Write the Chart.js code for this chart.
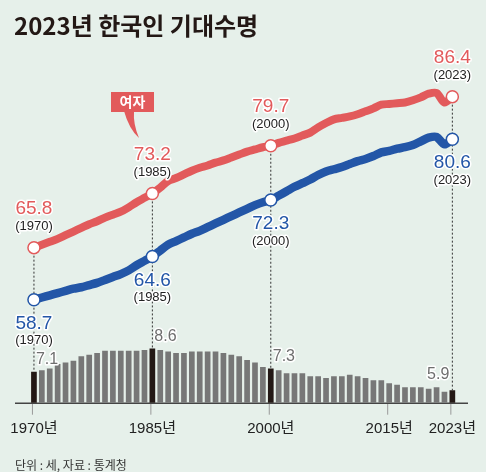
<!DOCTYPE html>
<html>
<head>
<meta charset="utf-8">
<script src="https://cdn.jsdelivr.net/npm/chart.js@4.4.1/dist/chart.umd.min.js"></script>
<style>
  html, body { margin: 0; padding: 0; background: #e6f0ea; }
  #wrap { width: 486px; height: 472px; position: relative; }
</style>
</head>
<body>
<div id="wrap"><canvas id="lifeChart"></canvas></div>
<script>
// years on the x axis
const years = [
  "1970","1971","1972","1973","1974","1975","1976","1977","1978","1979",
  "1980","1981","1982","1983","1984","1985","1986","1987","1988","1989",
  "1990","1991","1992","1993","1994","1995","1996","1997","1998","1999",
  "2000","2001","2002","2003","2004","2005","2006","2007","2008","2009",
  "2010","2011","2012","2013","2014","2015","2016","2017","2018","2019",
  "2020","2021","2022","2023"
];

// 여자 기대수명
const female = [
  65.8, 66.2, 66.6, 67.0, 67.5, 68.0, 68.5, 69.0, 69.4, 69.9,
  70.3, 70.7, 71.3, 72.0, 72.6, 73.2, 74.0, 74.9, 75.3, 75.8,
  76.3, 76.7, 77.0, 77.4, 77.7, 78.1, 78.5, 78.9, 79.2, 79.5,
  79.7, 80.1, 80.4, 80.7, 81.1, 81.5, 82.2, 82.8, 83.3, 83.5,
  83.7, 84.0, 84.4, 84.8, 85.3, 85.4, 85.5, 85.6, 85.9, 86.3,
  86.8, 86.9, 85.6, 86.4
];

// 남자 기대수명
const male = [
  58.7, 59.0, 59.3, 59.6, 59.9, 60.2, 60.4, 60.7, 61.0, 61.4,
  61.8, 62.2, 62.7, 63.4, 64.0, 64.6, 65.4, 66.2, 66.7, 67.2,
  67.7, 68.1, 68.6, 69.1, 69.6, 70.1, 70.6, 71.1, 71.6, 72.0,
  72.3, 72.9, 73.5, 74.1, 74.6, 75.1, 75.7, 76.2, 76.5, 76.8,
  77.2, 77.6, 77.9, 78.3, 78.8, 79.0, 79.3, 79.5, 79.8, 80.3,
  80.8, 80.9, 79.9, 80.6
];

// 남녀 기대수명 차이 (bars)
const gap = [
  7.1, 7.2, 7.3, 7.6, 7.7, 7.8, 8.1, 8.2, 8.3, 8.45,
  8.45, 8.45, 8.45, 8.45, 8.5, 8.6, 8.5, 8.4, 8.3, 8.3,
  8.4, 8.4, 8.4, 8.4, 8.3, 8.2, 8.1, 7.85, 7.7, 7.4,
  7.3, 7.2, 7.0, 7.0, 7.0, 6.8, 6.8, 6.7, 6.8, 6.8,
  6.9, 6.8, 6.7, 6.55, 6.55, 6.35, 6.25, 6.1, 6.1, 6.1,
  6.0, 6.1, 5.8, 5.9
];

const markYears = ["1970", "1985", "2000", "2023"]; // labelled points
const tickYears = ["1970", "1985", "2000", "2015", "2023"];

const RED = "#e25a5b";
const BLUE = "#2356a7";
const BG = "#e6f0ea";
const NUM_FONT = '"Liberation Sans", "Noto Sans CJK KR", sans-serif';
const KR_FONT = '"Noto Sans CJK KR", sans-serif';

const isMark = (i) => markYears.includes(years[i]);

// text with a white outline, like the printed graphic
function haloText(ctx, text, x, y, color, font, align) {
  ctx.save();
  ctx.font = font;
  ctx.textAlign = align || "center";
  ctx.textBaseline = "middle";
  ctx.lineJoin = "round";
  ctx.strokeStyle = "#ffffff";
  ctx.lineWidth = 3;
  ctx.strokeText(text, x, y);
  ctx.fillStyle = color;
  ctx.fillText(text, x, y);
  ctx.restore();
}

const decor = {
  id: "decor",
  beforeDraw(chart) {
    const ctx = chart.ctx;
    ctx.save();
    ctx.fillStyle = BG;
    ctx.fillRect(0, 0, chart.width, chart.height);
    ctx.restore();
  },
  beforeDatasetsDraw(chart) {
    const ctx = chart.ctx;
    const area = chart.chartArea;
    const fMeta = chart.getDatasetMeta(0);
    const bMeta = chart.getDatasetMeta(2);
    const xScale = chart.scales.x;

    // dashed guides from the female point down to the bar
    ctx.save();
    ctx.strokeStyle = "#333";
    ctx.lineWidth = 1;
    ctx.setLineDash([2, 2]);
    years.forEach((y, i) => {
      if (!isMark(i)) return;
      const x = fMeta.data[i].x;
      ctx.beginPath();
      ctx.moveTo(x, fMeta.data[i].y);
      ctx.lineTo(x, bMeta.data[i].y);
      ctx.stroke();
    });
    ctx.restore();

    // axis line + tick marks
    ctx.save();
    ctx.strokeStyle = "#999";
    ctx.lineWidth = 1;
    tickYears.forEach((y) => {
      const x = xScale.getPixelForValue(years.indexOf(y)) - 1.5;
      ctx.beginPath();
      ctx.moveTo(x, area.bottom);
      ctx.lineTo(x, area.bottom + 12);
      ctx.stroke();
    });
    ctx.strokeStyle = "#444";
    ctx.lineWidth = 1.5;
    ctx.beginPath();
    ctx.moveTo(15, area.bottom + 0.5);
    ctx.lineTo(468, area.bottom + 0.5);
    ctx.stroke();
    ctx.restore();
  },
  afterDatasetsDraw(chart) {
    const ctx = chart.ctx;
    const fMeta = chart.getDatasetMeta(0);
    const mMeta = chart.getDatasetMeta(1);
    const bMeta = chart.getDatasetMeta(2);

    years.forEach((y, i) => {
      if (!isMark(i)) return;
      const pf = fMeta.data[i];
      const pm = mMeta.data[i];
      haloText(ctx, female[i].toFixed(1), pf.x, pf.y - 39, RED, "19px " + NUM_FONT);
      haloText(ctx, "(" + y + ")", pf.x, pf.y - 21, "#222", "13px " + NUM_FONT);
      haloText(ctx, male[i].toFixed(1), pm.x, pm.y + 24, BLUE, "19px " + NUM_FONT);
      haloText(ctx, "(" + y + ")", pm.x, pm.y + 41, "#222", "13px " + NUM_FONT);

      const bar = bMeta.data[i];
      if (y === "2023") {
        haloText(ctx, gap[i].toFixed(1), bar.x - 3, bar.y - 16, "#6e6e6e", "16px " + NUM_FONT, "right");
      } else {
        haloText(ctx, gap[i].toFixed(1), bar.x + 2, bar.y - 12, "#6e6e6e", "16px " + NUM_FONT, "left");
      }
    });

    ctx.save();
    // title
    ctx.fillStyle = "#231815";
    ctx.font = "bold 24px " + KR_FONT;
    ctx.textBaseline = "middle";
    ctx.textAlign = "left";
    ctx.fillText("2023년 한국인 기대수명", 14, 26);

    // source
    ctx.fillStyle = "#333";
    ctx.font = "12px " + KR_FONT;
    ctx.fillText("단위 : 세, 자료 : 통계청", 15, 465);

    // 여자 callout
    ctx.fillStyle = RED;
    ctx.fillRect(111, 92, 43, 20);
    ctx.beginPath();
    ctx.moveTo(124, 111);
    ctx.quadraticCurveTo(129, 129, 139, 138);
    ctx.quadraticCurveTo(133, 124, 134, 111);
    ctx.closePath();
    ctx.fill();
    ctx.fillStyle = "#fff";
    ctx.font = "bold 14px " + KR_FONT;
    ctx.textAlign = "center";
    ctx.fillText("여자", 132.5, 102);
    ctx.restore();
  }
};

new Chart(document.getElementById("lifeChart"), {
  data: {
    labels: years,
    datasets: [
      {
        type: "line",
        label: "여자",
        data: female,
        yAxisID: "y",
        borderColor: RED,
        borderWidth: 8,
        borderCapStyle: "round",
        borderJoinStyle: "round",
        tension: 0.3,
        pointRadius: (c) => (isMark(c.dataIndex) ? 6 : 0),
        pointBackgroundColor: "#fff",
        pointBorderColor: RED,
        pointBorderWidth: 1.5,
        order: 1
      },
      {
        type: "line",
        label: "남자",
        data: male,
        yAxisID: "y",
        borderColor: BLUE,
        borderWidth: 8.5,
        borderCapStyle: "round",
        borderJoinStyle: "round",
        tension: 0.3,
        pointRadius: (c) => (isMark(c.dataIndex) ? 6 : 0),
        pointBackgroundColor: "#fff",
        pointBorderColor: BLUE,
        pointBorderWidth: 1.5,
        order: 2
      },
      {
        type: "bar",
        label: "차이",
        data: gap,
        yAxisID: "yBar",
        backgroundColor: (c) => (isMark(c.dataIndex) ? "#231815" : "#777777"),
        barPercentage: 0.72,
        categoryPercentage: 1,
        order: 3
      }
    ]
  },
  options: {
    responsive: true,
    maintainAspectRatio: false,
    animation: false,
    events: [],
    layout: { padding: { left: 30, right: 29.7, top: 60, bottom: 29.3 } },
    plugins: { legend: { display: false }, tooltip: { enabled: false } },
    scales: {
      x: {
        type: "category",
        offset: true,
        grid: { display: false },
        border: { display: false },
        ticks: {
          autoSkip: false,
          maxRotation: 0,
          padding: 9,
          color: "#222",
          font: { family: NUM_FONT, size: 15 },
          callback: (v, i) => (tickYears.includes(years[i]) ? years[i] + "년" : "")
        },
        afterFit: (s) => {
          s.height = 40;
          s.paddingLeft = 0;
          s.paddingRight = 0;
        }
      },
      y: { display: false, min: 44.65, max: 91.4 },
      yBar: { display: false, min: 5.1, max: 27.2 }
    }
  },
  plugins: [decor]
});
</script>
</body>
</html>
